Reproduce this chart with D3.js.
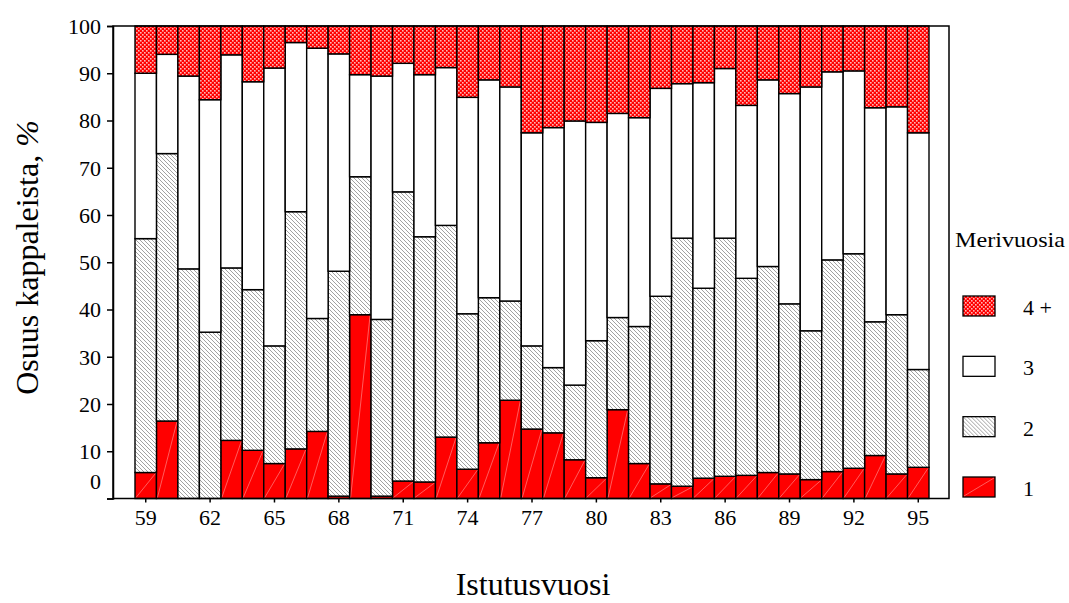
<!DOCTYPE html>
<html>
<head>
<meta charset="utf-8">
<script src="https://cdn.jsdelivr.net/npm/d3@7"></script>
<style>
  body { margin: 0; background: #fff; }
  svg { display: block; }
</style>
</head>
<body>
<svg id="chart" width="1069" height="603"></svg>
<script>
// Categories: planting year (Istutusvuosi), 1959-1995
const years = [59,60,61,62,63,64,65,66,67,68,69,70,71,72,73,74,75,76,77,78,79,80,81,82,83,84,85,86,87,88,89,90,91,92,93,94,95];
// Share (%) of fish with 1, 2, 3 and 4+ sea years
const sea1 = [5.5,16.4,0,0,12.3,10.2,7.4,10.5,14.2,0.5,38.9,0.5,3.7,3.5,13.0,6.2,11.8,20.8,14.7,13.9,8.2,4.4,18.8,7.4,3.1,2.6,4.3,4.7,4.9,5.5,5.2,4.0,5.7,6.4,9.1,5.2,6.6];
const sea2 = [49.5,56.6,48.6,35.2,36.5,34.0,24.9,50.2,23.9,47.6,29.2,37.4,61.2,51.9,44.8,32.9,30.7,21.0,17.6,13.8,15.8,29.0,19.5,29.0,39.7,52.5,40.2,50.4,41.7,43.6,36.0,31.5,44.8,45.4,28.3,33.7,20.7];
const sea3 = [35.0,21.0,40.8,49.2,45.1,44.0,58.8,35.8,57.2,46.0,21.6,51.5,27.2,34.3,33.4,45.8,46.1,45.3,45.1,50.8,55.9,46.2,43.2,44.2,44.0,32.7,43.5,35.9,36.6,39.5,44.5,51.6,39.8,38.7,45.3,44.0,50.1];
const sea4 = [10.0,6.0,10.6,15.6,6.1,11.8,8.9,3.5,4.7,5.9,10.3,10.6,7.9,10.3,8.8,15.1,11.4,12.9,22.6,21.5,20.1,20.4,18.5,19.4,13.2,12.2,12.0,9.0,16.8,11.4,14.3,12.9,9.7,9.5,17.3,17.1,22.6];
const seriesKeys = ["1","2","3","4 +"];
const legendOrder = ["4 +","3","2","1"];
const yTicks = [0,10,20,30,40,50,60,70,80,90,100];
const xTickYears = [59,62,65,68,71,74,77,80,83,86,89,92,95];

const FONT = '"Liberation Serif", "Times New Roman", Times, serif';
const svg = d3.select("#chart");
const defs = svg.append("defs");

// pattern for 4+ : red with light checker
const p4 = defs.append("pattern").attr("id","pat4").attr("patternUnits","userSpaceOnUse").attr("width",4).attr("height",4);
p4.append("rect").attr("width",4).attr("height",4).attr("fill","#ff0000");
p4.append("rect").attr("x",0).attr("y",0).attr("width",1.6).attr("height",1.6).attr("fill","#ffb8b8");
p4.append("rect").attr("x",2).attr("y",2).attr("width",1.6).attr("height",1.6).attr("fill","#ffb8b8");
// pattern for 2 : diagonal gray hatch
const p2 = defs.append("pattern").attr("id","pat2").attr("patternUnits","userSpaceOnUse").attr("width",4).attr("height",4);
p2.append("rect").attr("width",4).attr("height",4).attr("fill","#ffffff");
p2.append("path").attr("d","M-1,-1 L5,5 M-1,3 L1,5 M3,-1 L5,1").attr("stroke","#8a8a8a").attr("stroke-width",0.8);

const fills = {"1":"#ff0000","2":"url(#pat2)","3":"#ffffff","4 +":"url(#pat4)"};

const mLeft = 113, mRight = 949, mTop = 26, mBottom = 498.5;

const x = d3.scaleBand().domain(years).range([135, 929]).padding(0);
const y = d3.scaleLinear().domain([0,100]).range([mBottom, mTop]);

const table = years.map((yr,i) => ({year: yr, "1": sea1[i], "2": sea2[i], "3": sea3[i], "4 +": sea4[i]}));
const stacked = d3.stack().keys(seriesKeys)(table);

const g = svg.append("g");
stacked.forEach(layer => {
  const key = layer.key;
  const lg = g.append("g");
  lg.selectAll("rect").data(layer).join("rect")
    .attr("x", d => x(d.data.year))
    .attr("y", d => y(d[1]))
    .attr("width", x.bandwidth())
    .attr("height", d => y(d[0]) - y(d[1]))
    .attr("fill", fills[key])
    .attr("stroke", "#000")
    .attr("stroke-width", 1.4);
  if (key === "1") {
    lg.selectAll("line").data(layer.filter(d => d[1] - d[0] > 0.8)).join("line")
      .attr("x1", d => x(d.data.year) + 1)
      .attr("y1", d => y(d[0]) - 1)
      .attr("x2", d => x(d.data.year) + x.bandwidth() - 1)
      .attr("y2", d => y(d[1]) + 1)
      .attr("stroke", "#ff9a9a").attr("stroke-width", 0.6);
  }
});

// frame
svg.append("path")
  .attr("d", `M${mLeft},${mTop} L${mRight},${mTop} L${mRight},${mBottom} L${mLeft},${mBottom} Z`)
  .attr("fill","none").attr("stroke","#000").attr("stroke-width",1.5);

// y axis
const yAxis = d3.axisLeft(y).tickValues(yTicks).tickSize(6).tickPadding(6).tickFormat(d3.format("d"));
const yg = svg.append("g").attr("transform", `translate(${mLeft},0)`).call(yAxis);
yg.attr("font-family", null);
yg.select(".domain").attr("stroke","#000").attr("stroke-width",1.5);
yg.selectAll(".tick line").attr("stroke","#000").attr("stroke-width",1.5);
yg.selectAll(".tick text").style("font-family", FONT).style("font-size","22px").attr("fill","#000")
  .attr("dy", d => d === 0 ? "-0.45em" : "0.33em");

// x axis
const xAxis = d3.axisBottom(x).tickValues(xTickYears).tickSize(4).tickPadding(7);
const xg = svg.append("g").attr("transform", `translate(0,${mBottom})`).call(xAxis);
xg.attr("font-family", null);
xg.select(".domain").remove();
xg.selectAll(".tick line").attr("stroke","#000").attr("stroke-width",1.5);
xg.selectAll(".tick text").style("font-family", FONT).style("font-size","22px").attr("fill","#000");

// axis titles
const yt = svg.append("text").attr("transform","translate(38,257.5) rotate(-90)")
  .attr("text-anchor","middle").style("font-family", FONT).style("font-size","32px");
yt.append("tspan").text("Osuus kappaleista, ");
yt.append("tspan").style("font-style","italic").text("%");

svg.append("text").attr("x", 533).attr("y", 595).attr("text-anchor","middle")
  .style("font-family", FONT).style("font-size","32px").text("Istutusvuosi");

// legend
svg.append("text").attr("x", 955).attr("y", 247)
  .attr("textLength", 110).attr("lengthAdjust", "spacingAndGlyphs")
  .style("font-family", FONT).style("font-size","22px").text("Merivuosia");
const ly = d3.scalePoint().domain(legendOrder).range([296, 477]);
const leg = svg.append("g").selectAll("g").data(legendOrder).join("g")
  .attr("transform", d => `translate(963,${ly(d)})`);
leg.append("rect").attr("width",32).attr("height",20)
  .attr("fill", d => fills[d]).attr("stroke","#000").attr("stroke-width",1.3);
leg.filter(d => d === "1").append("line")
  .attr("x1",1).attr("y1",19).attr("x2",31).attr("y2",1).attr("stroke","#ff9a9a").attr("stroke-width",0.6);
leg.append("text").attr("x", 60).attr("y", 19).style("font-family", FONT).style("font-size","22px").text(d => d);
</script>
</body>
</html>
